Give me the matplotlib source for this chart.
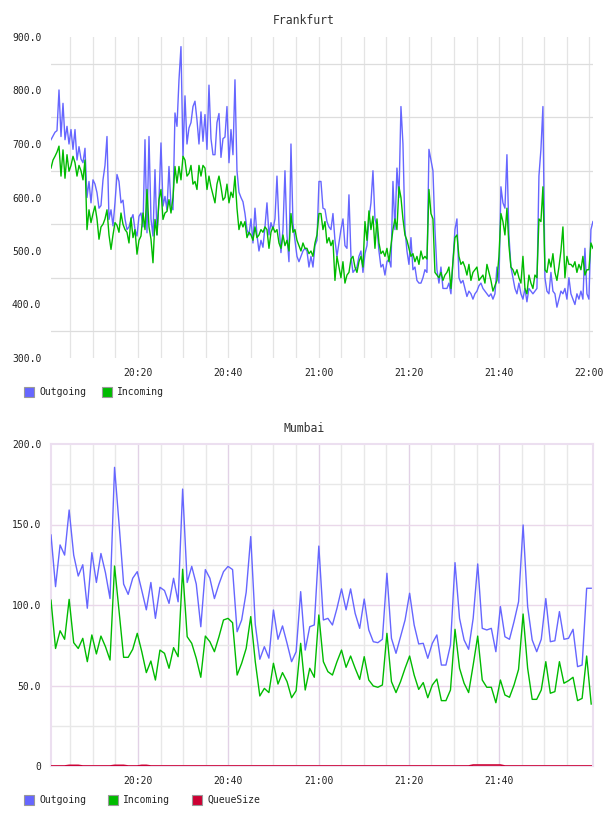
import numpy as np
import matplotlib
import matplotlib.pyplot as plt
from matplotlib.patches import Rectangle
from matplotlib.ticker import FixedLocator, FuncFormatter

matplotlib.use('Agg')

# ---- data (minutes after 20:00 on x) ----
frankfurt_out = [
    708, 715, 722, 725, 801, 714, 776, 708, 733, 700, 727, 690, 727, 670, 695, 672, 665, 692, 600, 630,
    590, 633, 625, 609, 580, 585, 633, 660, 714, 559, 577, 547, 590, 643, 630, 590, 595, 560, 540, 545,
    559, 568, 540, 528, 565, 571, 545, 708, 534, 714, 560, 528, 652, 530, 596, 702, 584, 602, 577, 658,
    584, 577, 758, 733, 820, 882, 677,
    790, 700, 730, 740, 770, 780, 745, 700, 760, 705, 755, 690, 810, 710, 680, 680, 740, 757, 675, 710,
    713, 770, 665, 727, 680, 820, 650, 610, 600, 592, 570, 540, 530, 560, 515, 580, 530, 500, 520, 507,
    545, 590, 530, 553, 540, 560, 640, 550, 497, 540, 650, 530, 480, 700, 552, 520, 490, 480, 490, 500,
    505, 500, 470, 490, 470, 510, 520, 630,
    630, 580, 578, 555, 545, 540, 570, 520, 490, 515, 540, 560, 510, 505, 605, 490, 460, 465, 470, 490,
    500, 460, 495, 510, 560, 590, 650, 560, 545, 500, 470, 475, 455, 480, 485, 470, 630, 540, 655, 600,
    770, 700, 540, 500, 475, 525, 465, 470, 445, 440, 440, 450, 465, 460, 690, 670, 650, 540, 465, 440,
    470, 430, 430, 430, 440, 420, 480, 540,
    560, 450, 440, 445, 430, 415, 425, 420, 410, 420, 425, 435, 440, 430, 425, 420, 415, 420, 410, 420,
    470, 440, 620, 590, 580, 680, 530, 470, 450, 430, 420, 440, 420, 410, 430, 405, 430, 425, 420, 425,
    430, 640, 690, 770, 450, 425, 420, 460, 425, 420, 395, 410, 425, 420, 430, 410, 450, 420, 410, 400,
    420, 410, 425, 410, 505, 420, 410, 540, 555,
]
frankfurt_in = [
    655, 670, 677, 685, 696, 640, 689, 636, 680, 649, 660, 677, 665, 640, 660, 650, 633, 670, 540, 577,
    553, 570, 584, 560, 522, 545, 550, 560, 577, 530, 503, 530, 553, 548, 535, 571, 550, 540, 535, 515,
    562, 525, 540, 494, 520, 528, 571, 540, 615, 545, 522, 478, 559, 530, 596, 615, 559, 571, 574, 596,
    571, 600, 658, 627, 658, 633, 677,
    670, 640, 645, 660, 625, 630, 615, 660, 640, 660, 655, 615, 640, 620, 605, 590, 625, 640, 620, 595,
    600, 625, 590, 610, 600, 640, 580, 540, 555, 545, 555, 525, 535, 530, 520, 545, 525, 530, 540, 535,
    545, 540, 505, 535, 545, 535, 540, 515, 505, 530, 510, 520, 500, 570, 535, 540, 520, 510, 500, 515,
    505, 505, 495, 500, 490, 515, 530, 570,
    570, 540, 555, 515, 525, 510, 520, 445, 490, 470, 450, 480, 440, 455, 460, 485, 490, 470, 460, 480,
    490, 470, 555, 520, 575, 540, 565, 505, 560, 515, 495, 500, 490, 505, 480, 510, 540, 560, 540, 620,
    600, 560, 530, 520, 505, 490, 495, 480, 490, 475, 500, 485, 490, 485, 615, 570, 560, 460, 455, 450,
    460, 445, 455, 460, 470, 430, 480, 525,
    530, 490, 475, 480, 470, 455, 475, 445, 460, 465, 470, 445, 450, 455, 440, 475, 460, 445, 425, 435,
    445, 490, 570, 555, 530, 580, 510, 470, 465, 455, 465, 450, 440, 490, 430, 420, 455, 440, 430, 455,
    450, 560, 555, 620, 465, 460, 485, 470, 495, 460, 445, 470, 500, 545, 450, 490, 475, 475, 470, 480,
    460, 475, 465, 490, 455, 465, 465, 515, 505,
]

mumbai_out = [
    143.5, 111.4, 137.3, 131, 159, 131, 118, 125, 98, 132.5, 114, 132, 120, 104, 185.5, 150, 113, 106.6, 116.6, 120.7,
    109, 97, 114, 91.7, 111, 109, 101, 116.6, 102, 172, 114, 124, 113, 86.5, 122, 116.6, 104, 113, 120.7, 124,
    122, 83.4, 90.7, 108, 142.5, 88, 66.3, 74.1, 67, 96.9, 78.7, 87, 76.2, 64.8, 71, 108.3, 72, 86.5, 87.6, 136.6,
    90.7, 91.7, 87.6, 98, 110, 97, 110, 94.8, 85.5, 103.7, 84.5, 77.2, 76.6, 78.7, 119.7, 79.3, 70, 80.3, 90.7, 107.3,
    87.6, 75.8, 76.2, 66.9, 76.2, 81.4, 62.7, 62.7, 75.2, 126.3, 91.7, 78.3, 72.5, 91.7, 125.5, 85.5, 84.5, 85.5, 71, 99,
    80.3, 78.7, 89.7, 102, 149.7, 99, 78.3, 71, 78.7, 104, 77.2, 77.8, 95.9, 78.7, 79.3, 84.9, 61.7, 62.7, 110.4, 110.4,
]
mumbai_in = [
    103, 73, 84, 78.7, 103.5, 76.6, 73, 79.3, 64.8, 81.4, 69.6, 80.7, 74.1, 65.8, 124.2, 96, 67.5, 67.5, 72.5, 82.4,
    71, 58, 65.2, 53.4, 72, 70, 60.7, 73.5, 67.9, 122.2, 80.3, 76.2, 66.9, 55.1, 80.7, 77.2, 71, 80.3, 90.7, 91.7,
    89, 56.5, 63.8, 73.1, 92.8, 64.8, 43.5, 48.2, 45.6, 63.8, 50.9, 58, 52.4, 42.4, 46.8, 76.2, 47.2, 60.7, 55.1, 93.8,
    64.8, 58.6, 56.5, 64.8, 72, 61.3, 68.3, 60.7, 53.8, 67.9, 53.4, 49.7, 48.9, 50.3, 82.4, 52.4, 45.6, 52.4, 60.7, 68.3,
    56.5, 47.6, 51.8, 42.4, 50.3, 54, 40.6, 40.6, 47.2, 84.9, 60.7, 51.4, 45.6, 62.7, 80.7, 53.4, 48.9, 48.9, 39.3, 53.4,
    44.1, 42.7, 50.3, 60, 94.4, 60.7, 41.4, 41.4, 47.2, 64.8, 45.2, 46.2, 64.8, 51.4, 53, 55.1, 40.6, 42, 68.3, 38.5,
]
mumbai_queue = [0] * 120
for i in (4, 5, 6, 14, 15, 16, 20, 21):
    mumbai_queue[i] = 0.4
for i in range(93, 100):
    mumbai_queue[i] = 0.6

C_OUT = '#6666ff'
C_IN = '#00bb00'
C_Q = '#cc0033'
MONO = 'DejaVu Sans Mono'

W, H = 608, 816
fig = plt.figure(figsize=(W / 100, H / 100), dpi=100)


def px_axes(left, top, right, bottom):
    return fig.add_axes([left / W, 1 - bottom / H, (right - left) / W, (bottom - top) / H])


def fmt_time(v, pos):
    v = int(round(v))
    return f"{20 + v // 60}:{v % 60:02d}"


def legend(y, items):
    for x, color, label in items:
        fig.add_artist(Rectangle((x / W, 1 - (y + 5) / H), 10 / W, 10 / H, transform=fig.transFigure,
                                 facecolor=color, edgecolor='#999999', lw=0.8))
        fig.text((x + 15) / W, 1 - y / H, label, fontsize=7, family=MONO, va='center', color='#222222')


# ---- Frankfurt ----
ax1 = px_axes(51, 37, 593, 358)
t1 = 0.73 + np.arange(len(frankfurt_out)) * 0.4430
ax1.plot(t1, frankfurt_out, color=C_OUT, lw=1.0, zorder=3)
ax1.plot(t1[:len(frankfurt_in)], frankfurt_in, color=C_IN, lw=1.0, zorder=3)
ax1.set_xlim(0.73, 120.8)
ax1.set_ylim(300, 900)
for s in ax1.spines.values():
    s.set_visible(False)
for m in range(5, 121, 5):
    ax1.axvline(m, color='#e4e4e4', lw=0.9, zorder=1)
for v in range(350, 900, 100):
    ax1.axhline(v, color='#dddddd', lw=0.9, zorder=1)
ax1.yaxis.set_major_locator(FixedLocator(range(300, 901, 100)))
ax1.yaxis.set_major_formatter(FuncFormatter(lambda v, p: f"{v:.1f}"))
ax1.xaxis.set_major_locator(FixedLocator([20, 40, 60, 80, 100, 120]))
ax1.xaxis.set_major_formatter(FuncFormatter(fmt_time))
ax1.tick_params(length=0, labelsize=7, colors='#222222', pad=7)
for lab in ax1.get_xticklabels() + ax1.get_yticklabels():
    lab.set_family(MONO)
fig.text(0.5, 1 - 20 / H, 'Frankfurt', ha='center', va='center', fontsize=8.3, family=MONO, color='#333333')
legend(392, [(24, C_OUT, 'Outgoing'), (102, C_IN, 'Incoming')])

# ---- Mumbai ----
ax2 = px_axes(51, 444, 593, 766)
t2 = np.linspace(0.73, 120.4, len(mumbai_out))
ax2.set_xlim(0.73, 120.8)
ax2.set_ylim(0, 200)
for s in ax2.spines.values():
    s.set_color('#ecdff0')
    s.set_linewidth(1.5)
for m in range(5, 120, 5):
    major = m % 20 == 0
    ax2.axvline(m, color='#e2d2e6' if major else '#e8e8e8', lw=1.0, zorder=1)
for v in range(25, 200, 25):
    major = v % 50 == 0
    ax2.axhline(v, color='#ead8ea' if major else '#e8e8e8', lw=1.0, zorder=1)
ax2.plot(t2, mumbai_out, color=C_OUT, lw=1.0, zorder=3)
ax2.plot(t2, mumbai_in, color=C_IN, lw=1.0, zorder=3)
ax2.plot(t2, mumbai_queue, color=C_Q, lw=1.2, zorder=4)
ax2.yaxis.set_major_locator(FixedLocator([0, 50, 100, 150, 200]))
ax2.yaxis.set_major_formatter(FuncFormatter(lambda v, p: '0' if v == 0 else f"{v:.1f}"))
ax2.xaxis.set_major_locator(FixedLocator([20, 40, 60, 80, 100]))
ax2.xaxis.set_major_formatter(FuncFormatter(fmt_time))
ax2.tick_params(length=0, labelsize=7, colors='#222222', pad=7)
for lab in ax2.get_xticklabels() + ax2.get_yticklabels():
    lab.set_family(MONO)
fig.text(0.5, 1 - 429 / H, 'Mumbai', ha='center', va='center', fontsize=8.3, family=MONO, color='#333333')
legend(800, [(24, C_OUT, 'Outgoing'), (108, C_IN, 'Incoming'), (192, C_Q, 'QueueSize')])

fig.savefig('out.png', dpi=100)
